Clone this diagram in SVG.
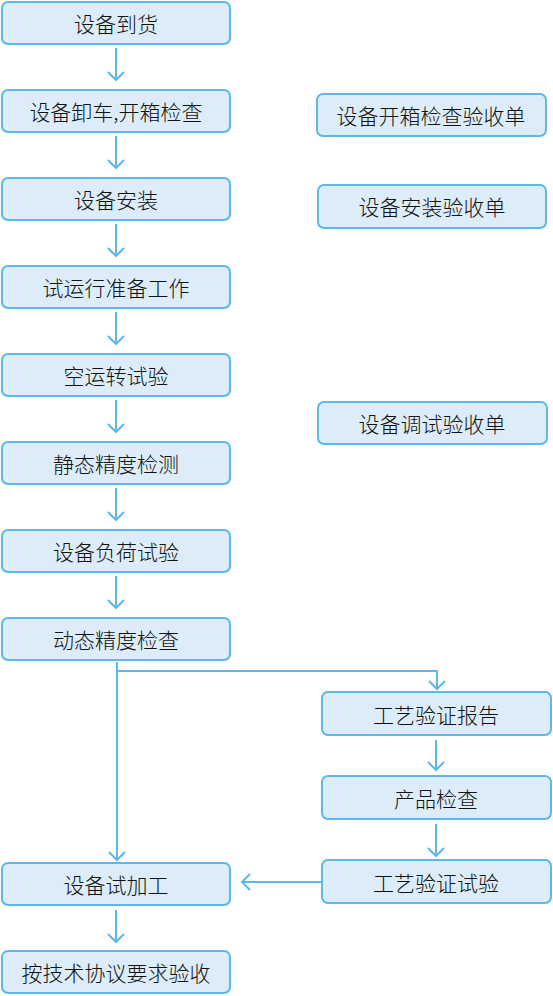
<svg xmlns="http://www.w3.org/2000/svg" width="553" height="996" viewBox="0 0 553 996">
<defs>
<marker id="ah" markerWidth="18" markerHeight="18" refX="9" refY="9" orient="auto" markerUnits="userSpaceOnUse">
<path d="M1,1 L9,9 L1,17" fill="none" stroke="#5bb8e8" stroke-width="2"/>
</marker>
<style>
.b{fill:#dcedf9;stroke:#5bb8e8;stroke-width:2}
.t{font-family:"Noto Sans CJK SC","Liberation Sans",sans-serif;font-size:21px;font-weight:300;fill:#111;text-anchor:middle;dominant-baseline:central}
.c{fill:none;stroke:#5bb8e8;stroke-width:2;marker-end:url(#ah)}
</style>
</defs>
<rect width="553" height="996" fill="#fff"/>
<g id="connectors">
<path class="c" d="M116,48 V80"/>
<path class="c" d="M116,136 V168"/>
<path class="c" d="M116,224 V256"/>
<path class="c" d="M116,312 V344"/>
<path class="c" d="M116,400 V432"/>
<path class="c" d="M116,488 V520"/>
<path class="c" d="M116,576 V608"/>
<path class="c" d="M117,662 V860"/>
<path class="c" d="M117,671 H437 V689"/>
<path class="c" d="M436,740 V770"/>
<path class="c" d="M436,824 V856"/>
<path class="c" d="M322,882 H242"/>
<path class="c" d="M116,910 V942"/>
</g>
<g id="n1"><rect class="b" x="2" y="2" width="228" height="42" rx="6"/><text class="t" x="116" y="23">设备到货</text></g>
<g id="n2"><rect class="b" x="2" y="90" width="228" height="42" rx="6"/><text class="t" x="116" y="111">设备卸车,开箱检查</text></g>
<g id="n3"><rect class="b" x="2" y="178" width="228" height="42" rx="6"/><text class="t" x="116" y="199">设备安装</text></g>
<g id="n4"><rect class="b" x="2" y="266" width="228" height="42" rx="6"/><text class="t" x="116" y="287">试运行准备工作</text></g>
<g id="n5"><rect class="b" x="2" y="354" width="228" height="42" rx="6"/><text class="t" x="116" y="375">空运转试验</text></g>
<g id="n6"><rect class="b" x="2" y="442" width="228" height="42" rx="6"/><text class="t" x="116" y="463">静态精度检测</text></g>
<g id="n7"><rect class="b" x="2" y="530" width="228" height="42" rx="6"/><text class="t" x="116" y="551">设备负荷试验</text></g>
<g id="n8"><rect class="b" x="2" y="618" width="228" height="42" rx="6"/><text class="t" x="116" y="639">动态精度检查</text></g>
<g id="n9"><rect class="b" x="2" y="863" width="228" height="42" rx="6"/><text class="t" x="116" y="884">设备试加工</text></g>
<g id="n10"><rect class="b" x="2" y="951" width="228" height="42" rx="6"/><text class="t" x="116" y="972">按技术协议要求验收</text></g>
<g id="r1"><rect class="b" x="317" y="94" width="229" height="42" rx="6"/><text class="t" x="431" y="115">设备开箱检查验收单</text></g>
<g id="r2"><rect class="b" x="318" y="185" width="228" height="43" rx="6"/><text class="t" x="432" y="206">设备安装验收单</text></g>
<g id="r3"><rect class="b" x="318" y="402" width="229" height="42" rx="6"/><text class="t" x="432" y="423">设备调试验收单</text></g>
<g id="r4"><rect class="b" x="322" y="692" width="229" height="43" rx="6"/><text class="t" x="436" y="714">工艺验证报告</text></g>
<g id="r5"><rect class="b" x="322" y="776" width="229" height="43" rx="6"/><text class="t" x="436" y="798">产品检查</text></g>
<g id="r6"><rect class="b" x="322" y="860" width="229" height="43" rx="6"/><text class="t" x="436" y="882">工艺验证试验</text></g>
</svg>
